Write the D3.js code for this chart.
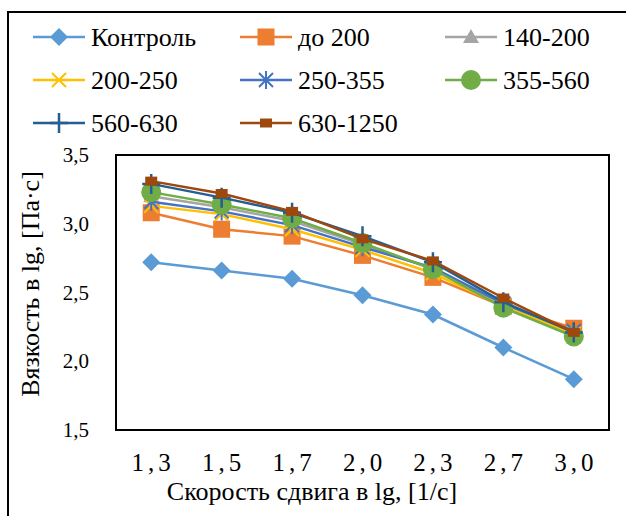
<!DOCTYPE html>
<html>
<head>
<meta charset="utf-8">
<script src="https://cdn.jsdelivr.net/npm/d3@7"></script>
<style>
  body { margin: 0; background: #fff; }
</style>
</head>
<body>
<div id="chart"></div>
<script>
var width = 626;
var height = 516;
var fontFamily = "'Liberation Serif', 'Times New Roman', 'DejaVu Serif', serif";

var categories = ['1,3', '1,5', '1,7', '2,0', '2,3', '2,7', '3,0'];
var yTicks = [1.5, 2.0, 2.5, 3.0, 3.5];

var seriesNames = ['Контроль', 'до 200', '140-200', '200-250', '250-355', '355-560', '560-630', '630-1250'];
var control = [2.72, 2.66, 2.60, 2.48, 2.34, 2.10, 1.87];
var do200 = [3.08, 2.96, 2.91, 2.77, 2.61, 2.40, 2.24];
var s140_200 = [3.20, 3.12, 3.02, 2.85, 2.67, 2.41, 2.20];
var s200_250 = [3.13, 3.07, 2.96, 2.81, 2.64, 2.40, 2.20];
var s250_355 = [3.16, 3.09, 2.99, 2.83, 2.68, 2.42, 2.22];
var s355_560 = [3.23, 3.14, 3.04, 2.86, 2.67, 2.39, 2.18];
var s560_630 = [3.29, 3.19, 3.08, 2.91, 2.72, 2.43, 2.21];
var s630_1250 = [3.31, 3.22, 3.09, 2.89, 2.73, 2.46, 2.21];

var colors = ['#5B9BD5', '#ED7D31', '#A5A5A5', '#FFC000', '#4472C4', '#70AD47', '#255E91', '#9E480E'];
var markers = ['diamond', 'square', 'triangle', 'x', 'star', 'circle', 'plus', 'rect'];

var series = [control, do200, s140_200, s200_250, s250_355, s355_560, s560_630, s630_1250]
  .map(function(v, i) {
    return { name: seriesNames[i], values: v, color: colors[i], marker: markers[i] };
  });

var plot = { left: 116, right: 609, top: 155, bottom: 430 };

var svg = d3.select('#chart').append('svg')
  .attr('width', width)
  .attr('height', height)
  .attr('font-family', fontFamily);

// outer chart border (runs off the right/bottom of the picture)
svg.append('rect')
  .attr('x', 8).attr('y', 12)
  .attr('width', 640).attr('height', 540)
  .attr('fill', 'none')
  .attr('stroke', '#000')
  .attr('stroke-width', 2);

var x = d3.scalePoint()
  .domain(categories)
  .range([plot.left, plot.right])
  .padding(0.5);

var y = d3.scaleLinear()
  .domain([1.5, 3.5])
  .range([plot.bottom, plot.top]);

// plot area frame
svg.append('rect')
  .attr('x', plot.left).attr('y', plot.top)
  .attr('width', plot.right - plot.left)
  .attr('height', plot.bottom - plot.top)
  .attr('fill', 'none')
  .attr('stroke', '#000')
  .attr('stroke-width', 2);

// y tick labels
svg.append('g')
  .selectAll('text')
  .data(yTicks)
  .enter().append('text')
  .attr('x', 89)
  .attr('y', function(d) { return y(d) + 7; })
  .attr('text-anchor', 'end')
  .attr('font-family', fontFamily)
  .style('font-size', '21px')
  .text(function(d) { return d.toFixed(1).replace('.', ','); });

// x tick labels (spaced out like in the original)
svg.append('g')
  .selectAll('text')
  .data(categories)
  .enter().append('text')
  .attr('x', function(d) { return x(d) + 2; })
  .attr('y', 471)
  .attr('text-anchor', 'middle')
  .attr('font-family', fontFamily)
  .style('font-size', '25px')
  .style('letter-spacing', '4px')
  .text(function(d) { return d; });

// axis titles
svg.append('text')
  .attr('x', 312).attr('y', 500)
  .attr('text-anchor', 'middle')
  .attr('font-family', fontFamily)
  .style('font-size', '26px')
  .text('Скорость сдвига в lg, [1/с]');

svg.append('text')
  .attr('transform', 'translate(39,284) rotate(-90)')
  .attr('text-anchor', 'middle')
  .attr('font-family', fontFamily)
  .style('font-size', '26px')
  .text('Вязкость в lg, [Па·с]');

function markerPath(type) {
  switch (type) {
    case 'diamond': return 'M0,-9L9,0L0,9L-9,0Z';
    case 'square': return 'M-8.5,-8.5H8.5V8.5H-8.5Z';
    case 'triangle': return 'M0,-8L8,6H-8Z';
    case 'x': return 'M-7,-7L7,7M7,-7L-7,7';
    case 'star': return 'M-7,-7L7,7M7,-7L-7,7M0,-9V9';
    case 'plus': return 'M0,-10V10M-9,0H9';
    case 'rect': return 'M-6,-4.5H6V4.5H-6Z';
  }
  return '';
}

function drawMarker(g, s) {
  if (s.marker === 'circle') {
    g.append('circle').attr('r', 10).attr('fill', s.color);
  } else if (s.marker === 'x' || s.marker === 'star' || s.marker === 'plus') {
    g.append('path').attr('d', markerPath(s.marker))
      .attr('fill', 'none')
      .attr('stroke', s.color)
      .attr('stroke-width', s.marker === 'plus' ? 2.5 : 2);
  } else {
    g.append('path').attr('d', markerPath(s.marker)).attr('fill', s.color);
  }
}

var line = d3.line()
  .x(function(d, i) { return x(categories[i]); })
  .y(function(d) { return y(d); });

series.forEach(function(s) {
  var g = svg.append('g').attr('class', 'series');
  g.append('path')
    .attr('d', line(s.values))
    .attr('fill', 'none')
    .attr('stroke', s.color)
    .attr('stroke-width', 2.5);

  g.selectAll('.pt')
    .data(s.values)
    .enter().append('g')
    .attr('class', 'pt')
    .attr('transform', function(d, i) {
      return 'translate(' + x(categories[i]) + ',' + y(d) + ')';
    })
    .each(function() { drawMarker(d3.select(this), s); });
});

// legend
var legendCols = [33, 240, 445];
var legendRows = [37, 80, 123];

var legend = svg.append('g')
  .selectAll('.legend-item')
  .data(series)
  .enter().append('g')
  .attr('class', 'legend-item')
  .attr('transform', function(d, i) {
    return 'translate(' + legendCols[i % 3] + ',' + legendRows[Math.floor(i / 3)] + ')';
  });

legend.append('line')
  .attr('x1', 0).attr('x2', 52)
  .attr('stroke', function(d) { return d.color; })
  .attr('stroke-width', 2.5);

legend.append('g')
  .attr('transform', 'translate(26,0)')
  .each(function(d) { drawMarker(d3.select(this), d); });

legend.append('text')
  .attr('x', 58)
  .attr('y', 9)
  .attr('font-family', fontFamily)
  .style('font-size', '26px')
  .text(function(d) { return d.name; });
</script>
</body>
</html>
